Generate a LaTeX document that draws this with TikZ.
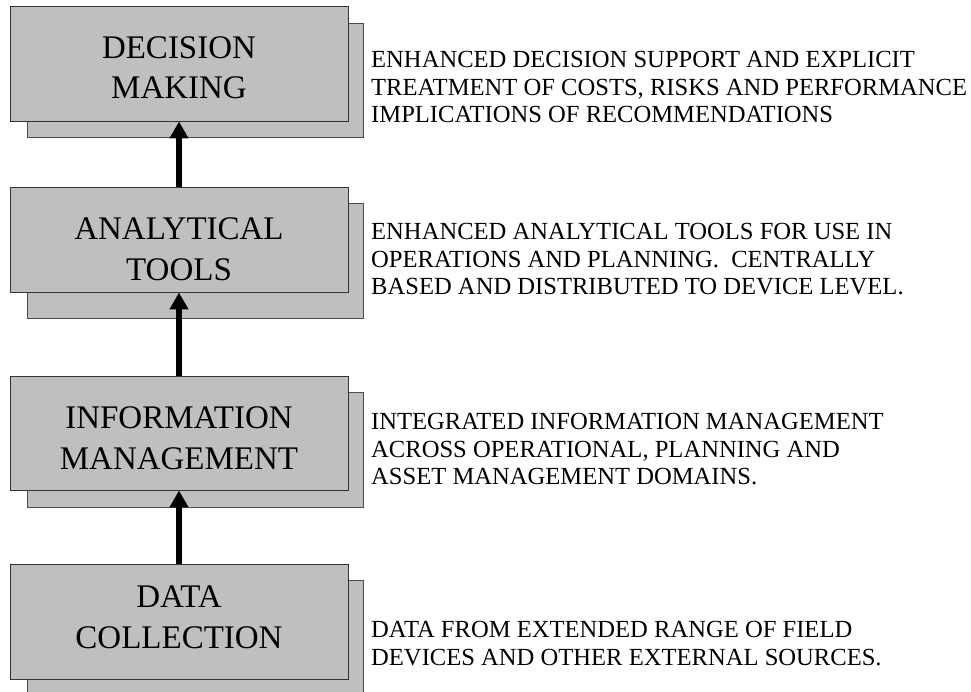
\documentclass[tikz,border=0pt]{standalone}
\usepackage{fontspec}
\setmainfont{Liberation Serif}
\usetikzlibrary{arrows.meta}
\newcommand{\boxx}{179}
\newcommand{\backx}{195}
\newcommand{\notex}{371}

\begin{document}
\begin{tikzpicture}[x=1pt, y=-1pt,
        front/.style={draw=black!80, fill=black!25, line width=0.9pt, minimum width=338pt,
            inner sep=0pt},
        back/.style={draw=black!70, fill=black!25, line width=0.9pt, minimum width=336pt,
            inner sep=0pt},
        title/.style={inner sep=0pt, align=center, font=\fontsize{33}{40.5}\selectfont},
        note/.style={anchor=north west, inner sep=0pt, align=left,
            font=\fontsize{24.6}{27.5}\selectfont},
        up/.style={line width=5.5pt, -{Triangle[width=18pt, length=17pt]}}]

        \useasboundingbox (0, 0) rectangle (971, 692);

        % shadow boxes
        \node[back, minimum height=114pt] (decisionback) at (\backx, 80) {};
        \node[back, minimum height=115pt] (toolsback) at (\backx, 260.5) {};
        \node[back, minimum height=115pt] (infoback) at (\backx, 449.5) {};
        \node[back, minimum height=118pt] (databack) at (\backx, 639) {};

        % front boxes
        \node[front, minimum height=115pt] (decision) at (\boxx, 63.5) {};
        \node[front, minimum height=105pt] (tools) at (\boxx, 239.5) {};
        \node[front, minimum height=114pt] (info) at (\boxx, 433) {};
        \node[front, minimum height=115pt] (data) at (\boxx, 621.5) {};

        \node[title] (decisiontitle) at (\boxx, 67.5) {DECISION\\MAKING};
        \node[title] (toolstitle) at (\boxx, 249) {ANALYTICAL\\TOOLS};
        \node[title] (infotitle) at (\boxx, 438) {INFORMATION\\MANAGEMENT};
        \node[title] (datatitle) at (\boxx, 617.5) {DATA\\COLLECTION};

        \draw[up] (tools.north) -- (decision.south);
        \draw[up] (info.north) -- (tools.south);
        \draw[up] (data.north) -- (info.south);

        \node[note] (decisionnote) at (\notex, 51.3) {ENHANCED DECISION SUPPORT AND EXPLICIT\\TREATMENT OF COSTS, RISKS AND PERFORMANCE\\IMPLICATIONS OF RECOMMENDATIONS};
        \node[note] (toolsnote) at (\notex, 223.3) {ENHANCED ANALYTICAL TOOLS FOR USE IN\\OPERATIONS AND PLANNING.\ \ CENTRALLY\\BASED AND DISTRIBUTED TO DEVICE LEVEL.};
        \node[note] (infonote) at (\notex, 413.3) {INTEGRATED INFORMATION MANAGEMENT\\ACROSS OPERATIONAL, PLANNING AND\\ASSET MANAGEMENT DOMAINS.};
        \node[note] (datanote) at (\notex, 621.3) {DATA FROM EXTENDED RANGE OF FIELD\\DEVICES AND OTHER EXTERNAL SOURCES.};

\end{tikzpicture}
\end{document}
